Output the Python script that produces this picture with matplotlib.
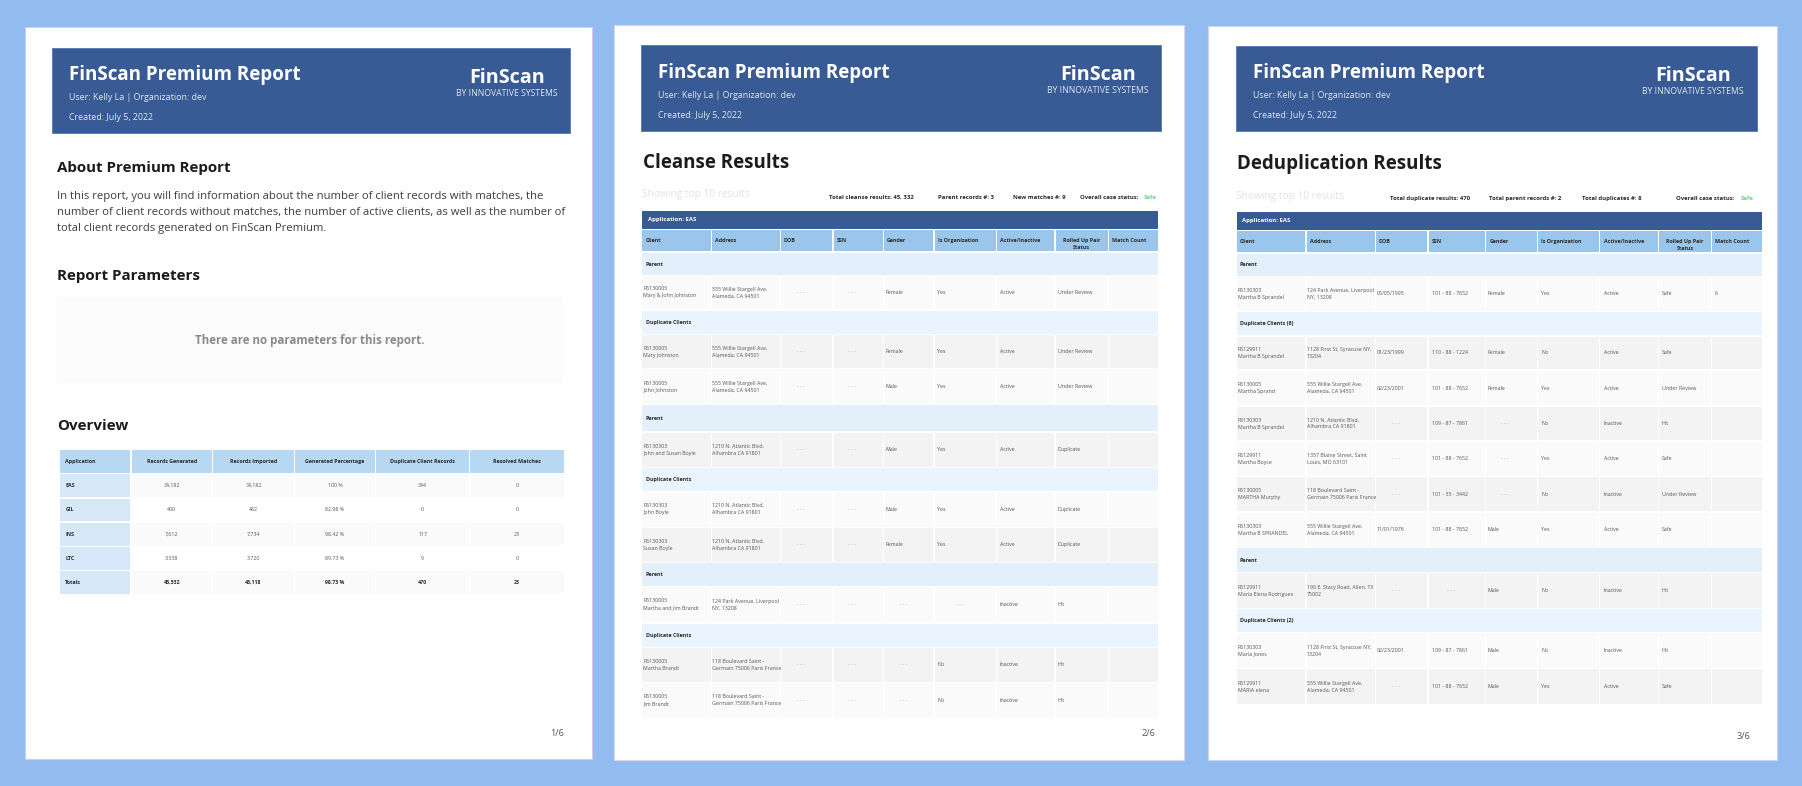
import matplotlib
matplotlib.use("Agg")
import matplotlib.pyplot as plt
from matplotlib.patches import Rectangle

plt.rcParams['font.family'] = ['Open Sans', 'DejaVu Sans']

# ---- data: page 1
para_lines = ["In this report, you will find information about the number of client records with matches, the",
              "number of client records without matches, the number of active clients, as well as the number of",
              "total client records generated on FinScan Premium."]
overview_cols = ["Application", "Records Generated", "Records Imported", "Generated Percentage",
                 "Duplicate Client Records", "Resolved Matches"]
overview_apps = ["EAS", "GIL", "INS", "LTC", "Totals"]
records_generated = ["34,182", "400", "7,612", "3,338", "45,532"]
records_imported = ["34,182", "482", "7,734", "3,720", "46,118"]
generated_pct = ["100 %", "82.98 %", "98.42 %", "89.73 %", "98.73 %"]
duplicate_records = ["344", "0", "117", "9", "470"]
resolved_matches = ["0", "0", "23", "0", "23"]

# ---- data: results tables
result_cols = ["Client", "Address", "DOB", "SSN", "Gender", "Is Organization", "Active/Inactive",
               "Rolled Up Pair\nStatus", "Match Count"]
DASH = "- - -"
ADDR_555 = "555 Willie Stargell Ave,\nAlameda, CA 94501"
ADDR_1210 = "1210 N. Atlantic Blvd,\nAlhambra CA 91801"
ADDR_118 = "118 Boulevard Saint -\nGermain 75006 Paris France"
ADDR_124 = "124 Park Avenue, Liverpool\nNY, 13208"
ADDR_1128 = "1128 First St, Syracuse NY,\n13204"

p2_bands = ["Parent", "Duplicate Clients", "Parent", "Duplicate Clients", "Parent", "Duplicate Clients"]
p2_clients = ["R6130005\nMary & John Johnston", "R6130005\nMary Johnston", "R6130005\nJohn Johnston",
              "R6130303\nJohn and Susan Boyle", "R6130303\nJohn Boyle", "R6130303\nSusan Boyle",
              "R6130005\nMartha and Jim Brandt", "R6130005\nMartha Brandt", "R6130005\nJim Brandt"]
p2_address = [ADDR_555, ADDR_555, ADDR_555, ADDR_1210, ADDR_1210, ADDR_1210, ADDR_124, ADDR_118, ADDR_118]
p2_dob = [DASH] * 9
p2_ssn = [DASH] * 9
p2_gender = ["Female", "Female", "Male", "Male", "Male", "Female", DASH, DASH, DASH]
p2_org = ["Yes", "Yes", "Yes", "Yes", "Yes", "Yes", DASH, "No", "No"]
p2_active = ["Active"] * 6 + ["Inactive"] * 3
p2_status = ["Under Review"] * 3 + ["Duplicate"] * 3 + ["Hit"] * 3
p2_match = [""] * 9

p3_bands = ["Parent", "Duplicate Clients (6)", "Parent", "Duplicate Clients (2)"]
p3_clients = ["R6130303\nMartha B Sprandel", "R6129911\nMartha B Sprandel", "R6130005\nMartha Sprand",
              "R6130303\nMartha B Sprandel", "R6129911\nMartha Boyce", "R6130005\nMARTHA Murphy",
              "R6130303\nMartha B SPRANDEL", "R6129911\nMaria Elena Rodrigues", "R6130303\nMaria Jones",
              "R6129911\nMARIA elena"]
p3_address = [ADDR_124, ADDR_1128, ADDR_555, ADDR_1210, "1357 Blaine Street, Saint\nLouis, MO 63101", ADDR_118,
              ADDR_555, "190 E. Stacy Road, Allen, TX\n75002", ADDR_1128, ADDR_555]
p3_dob = ["05/05/1995", "01/23/1999", "02/23/2001", DASH, DASH, DASH, "11/01/1976", DASH, "02/23/2001", DASH]
p3_ssn = ["101 - 88 - 7652", "110 - 88 - 1224", "101 - 88 - 7652", "109 - 87 - 7861", "101 - 88 - 7652",
          "101 - 55 - 3442", "101 - 88 - 7652", DASH, "109 - 87 - 7861", "101 - 88 - 7652"]
p3_gender = ["Female", "Female", "Female", DASH, DASH, DASH, "Male", "Male", "Male", "Male"]
p3_org = ["Yes", "No", "Yes", "No", "Yes", "No", "Yes", "No", "No", "Yes"]
p3_active = ["Active", "Active", "Active", "Inactive", "Active", "Inactive", "Active", "Inactive", "Inactive", "Active"]
p3_status = ["Safe", "Safe", "Under Review", "Hit", "Safe", "Under Review", "Safe", "Hit", "Hit", "Safe"]
p3_match = ["6"] + [""] * 9

# ---- colours
BG = "#92bcf0"
NAVY = "#385b95"
INK = "#1c1c1c"
CELL_TEXT = "#555555"
GREEN = "#6fd08c"

fig = plt.figure(figsize=(18.02, 7.86), dpi=100, facecolor=BG)
ax = fig.add_axes([0, 0, 1, 1])
ax.set_xlim(0, 1802)
ax.set_ylim(786, 0)
ax.axis("off")


def box(x0, y0, x1, y1, color, edge="none", lw=0):
    ax.add_patch(Rectangle((x0, y0), x1 - x0, y1 - y0, facecolor=color, edgecolor=edge, linewidth=lw))


def txt(x, y, s, size, color=INK, weight="normal", ha="left"):
    ax.text(x, y, s, fontsize=size, color=color, fontweight=weight, ha=ha, va="center")


def two_lines(x, y, s, size, color=CELL_TEXT, weight="normal", ha="left"):
    parts = s.split("\n")
    if len(parts) == 1:
        txt(x, y, s, size, color, weight, ha)
    else:
        txt(x, y - 3.5, parts[0], size, color, weight, ha)
        txt(x, y + 3.5, parts[1], size, color, weight, ha)


def page(x0, y0, x1, y1, edge):
    box(x0, y0, x1, y1, "white", edge, 0.8)


def header(x0, y0, x1, y1, tx, ty, lx, ly):
    box(x0, y0, x1, y1, NAVY, "#4f78b8", 0.6)
    txt(tx, ty + 1, "FinScan Premium Report", 13.5, "white", "bold")
    txt(tx, ty + 23.5, "User: Kelly La | Organization: dev", 6.4, "#dfe6f0")
    txt(tx, ty + 43.5, "Created: July 5, 2022", 6.4, "#dfe6f0")
    txt(lx, ly + 1, "FinScan", 14.2, "white", "bold", ha="center")
    txt(lx, ly + 16.5, "BY INNOVATIVE SYSTEMS", 6.2, "#dfe6f0", ha="center")


def results_table(xs, head_x, cell_x, bar, head, rows, kinds, fills, bands, columns):
    # bar / header row
    left, right = xs[0][0], xs[-1][1]
    box(left, bar[0], right, bar[1], NAVY)
    txt(head_x[0] + 2, (bar[0] + bar[1]) / 2, "Application: EAS", 4.3, "white", "bold")
    for i, name in enumerate(result_cols):
        box(xs[i][0], head[0], xs[i][1], head[1], "#9bc6ec")
        ymid = (head[0] + head[1]) / 2
        if "\n" in name:
            a, b = name.split("\n")
            cx = (xs[i][0] + xs[i][1]) / 2
            txt(cx, ymid, a, 3.9, "#2a2a2a", "bold", ha="center")
            txt(cx, ymid + 7, b, 3.9, "#2a2a2a", "bold", ha="center")
        else:
            txt(head_x[i], ymid, name, 3.9, "#2a2a2a", "bold")
    nband = 0
    nrow = 0
    for (y0, y1), kind in zip(rows, kinds):
        ymid = (y0 + y1) / 2
        if kind in ("P", "D"):
            box(left, y0, right, y1, "#e3f0fb" if kind == "P" else "#eaf4fe")
            txt(head_x[0], ymid, bands[nband], 3.9, "#2a2a2a", "bold")
            nband += 1
            continue
        for i, col in enumerate(columns):
            box(xs[i][0], y0, xs[i][1], y1, fills[nrow])
            val = col[nrow]
            if val == DASH:
                txt((xs[i][0] + xs[i][1]) / 2 - 6, ymid, val, 3.8, "#aaaaaa", ha="center")
            else:
                two_lines(cell_x[i], ymid, val, 3.75)
        nrow += 1


# ---- page 1
page(25.3, 26.7, 592, 759, "#d9c8e8")
header(52, 48.3, 570, 132.7, 69, 74, 507, 77)
txt(57.4, 168, "About Premium Report", 10.9, INK, "bold")
for y, line in zip([196.7, 212.7, 228.7], para_lines):
    txt(57.4, y, line, 8.1, "#3d3d3d")
txt(57.4, 276, "Report Parameters", 10.9, INK, "bold")
box(57.4, 297.3, 562.6, 382.7, "#fbfbfb")
txt(309.6, 340.7, "There are no parameters for this report.", 8.3, "#8a8a8a", "bold", ha="center")
txt(57.4, 426, "Overview", 10.9, INK, "bold")

ov_x = [(60, 130.2), (131.6, 212), (213.2, 293.9), (295, 375), (376.2, 469.2), (470.3, 564)]
ov_head = (450, 472.7)
ov_rows = [(474, 497), (498.7, 521), (523, 545.7), (547, 570), (571.3, 594.3)]
ov_cols = [records_generated, records_imported, generated_pct, duplicate_records, resolved_matches]
ov_fill = ["#fafafa", "#ffffff", "#fafafa", "#ffffff", "#fafafa"]
for i, name in enumerate(overview_cols):
    box(ov_x[i][0], ov_head[0], ov_x[i][1], ov_head[1], "#b7d8f2")
    mid = (ov_head[0] + ov_head[1]) / 2
    if i == 0:
        txt(65.4, mid, name, 3.9, "#2a2a2a", "bold")
    else:
        txt((ov_x[i][0] + ov_x[i][1]) / 2, mid, name, 3.9, "#2a2a2a", "bold", ha="center")
for r, (y0, y1) in enumerate(ov_rows):
    mid = (y0 + y1) / 2
    box(ov_x[0][0], y0, ov_x[0][1], y1, "#d6e8f8")
    txt(65.4, mid, overview_apps[r], 3.9, "#2a2a2a", "bold")
    for c, col in enumerate(ov_cols):
        box(ov_x[c + 1][0], y0, ov_x[c + 1][1], y1, ov_fill[r])
        last = r == len(ov_rows) - 1
        txt((ov_x[c + 1][0] + ov_x[c + 1][1]) / 2, mid, col[r], 3.75,
            "#2a2a2a" if last else CELL_TEXT, "bold" if last else "normal", ha="center")
txt(563.7, 733.7, "1/6", 6.6, "#555555", ha="right")

# ---- page 2
page(614, 25.3, 1183.6, 760, "#d9d4ea")
header(641, 45.3, 1161, 130.7, 657.8, 71.7, 1097.8, 74)
txt(642.7, 163, "Cleanse Results", 13.5, INK, "bold")
txt(642, 195, "Showing top 10 results", 7.3, "#e2e2e2")
txt(828.7, 197.7, "Total cleanse results: 45, 332", 4.3, "#2a2a2a", "bold")
txt(938, 197.7, "Parent records #: 3", 4.3, "#2a2a2a", "bold")
txt(1013, 197.7, "New matches #: 9", 4.3, "#2a2a2a", "bold")
txt(1080, 197.7, "Overall case status:", 4.3, "#2a2a2a", "bold")
txt(1144, 197.7, "Safe", 4.3, GREEN, "bold")

p2_xs = [(642, 710.9), (712, 780.1), (781.2, 832.4), (833.9, 882.9), (884, 933.3), (935.2, 996.2),
         (997.3, 1054.1), (1055.6, 1107.6), (1108.7, 1158)]
p2_head_x = [645.8, 715, 784, 836.6, 886.6, 937.8, 999.5, 1058, 1111.7]
p2_cell_x = [643, 712.4, 784, 836.6, 886, 937.4, 999.5, 1058, 1111.7]
p2_rows = [(252.7, 275.3), (276, 309), (311, 334), (335.3, 368), (369.3, 404), (405.3, 431), (432.7, 466.7),
           (468, 491), (491.5, 526.7), (528, 561.7), (563, 586), (587, 622), (623.7, 646.7), (647.7, 682),
           (683, 717.7)]
p2_kinds = "PRDRRPRDRRPRDRR"
p2_fills = ["#fafafa", "#f3f3f3", "#fafafa", "#f3f3f3", "#fafafa", "#f3f3f3", "#fafafa", "#f3f3f3", "#fafafa"]
results_table(p2_xs, p2_head_x, p2_cell_x, (210.7, 229), (230.3, 251.3), p2_rows, p2_kinds, p2_fills, p2_bands,
              [p2_clients, p2_address, p2_dob, p2_ssn, p2_gender, p2_org, p2_active, p2_status, p2_match])
txt(1155, 734, "2/6", 6.6, "#555555", ha="right")

# ---- page 3
page(1208.4, 26, 1777.4, 760.3, "#c8d4f0")
header(1235.7, 46, 1756.6, 131.3, 1252.6, 72.3, 1693, 74.7)
txt(1236.9, 164.3, "Deduplication Results", 13.5, INK, "bold")
txt(1236.5, 196, "Showing top 10 results", 7.3, "#e2e2e2")
txt(1390.4, 198.3, "Total duplicate results: 470", 4.3, "#2a2a2a", "bold")
txt(1488.7, 198.3, "Total parent records #: 2", 4.3, "#2a2a2a", "bold")
txt(1581.6, 198.3, "Total duplicates #: 8", 4.3, "#2a2a2a", "bold")
txt(1676.4, 198.3, "Overall case status:", 4.3, "#2a2a2a", "bold")
txt(1740.5, 198.3, "Safe", 4.3, GREEN, "bold")

p3_xs = [(1236.5, 1304.8), (1306.7, 1374.7), (1375.8, 1427.3), (1428.8, 1484.8), (1486, 1536.7), (1537.8, 1599.2),
         (1600.4, 1658), (1659.1, 1711), (1712.1, 1762)]
p3_head_x = [1240, 1310, 1378.5, 1431.5, 1489.4, 1541, 1603.5, 1662, 1715]
p3_cell_x = [1237.6, 1307, 1377, 1431.5, 1488, 1541, 1603.5, 1662, 1715]
p3_rows = [(253.7, 276.3), (277, 310.7), (312.3, 335), (336.7, 369.3), (370.7, 405.3), (406.7, 440.3), (442, 476),
           (477.3, 511.3), (512.7, 546.7), (548.3, 571.7), (573.3, 608), (609.3, 632), (633.3, 668), (669.3, 704)]
p3_kinds = "PRDRRRRRRPRDRR"
p3_fills = ["#fafafa", "#f3f3f3", "#fafafa", "#f3f3f3", "#fafafa", "#f3f3f3", "#fafafa", "#f3f3f3", "#fafafa", "#f3f3f3"]
results_table(p3_xs, p3_head_x, p3_cell_x, (211.7, 229.7), (231, 252.3), p3_rows, p3_kinds, p3_fills, p3_bands,
              [p3_clients, p3_address, p3_dob, p3_ssn, p3_gender, p3_org, p3_active, p3_status, p3_match])
txt(1750.5, 736.7, "3/6", 6.6, "#555555", ha="right")

fig.savefig("out.png", dpi=100, facecolor=BG)
